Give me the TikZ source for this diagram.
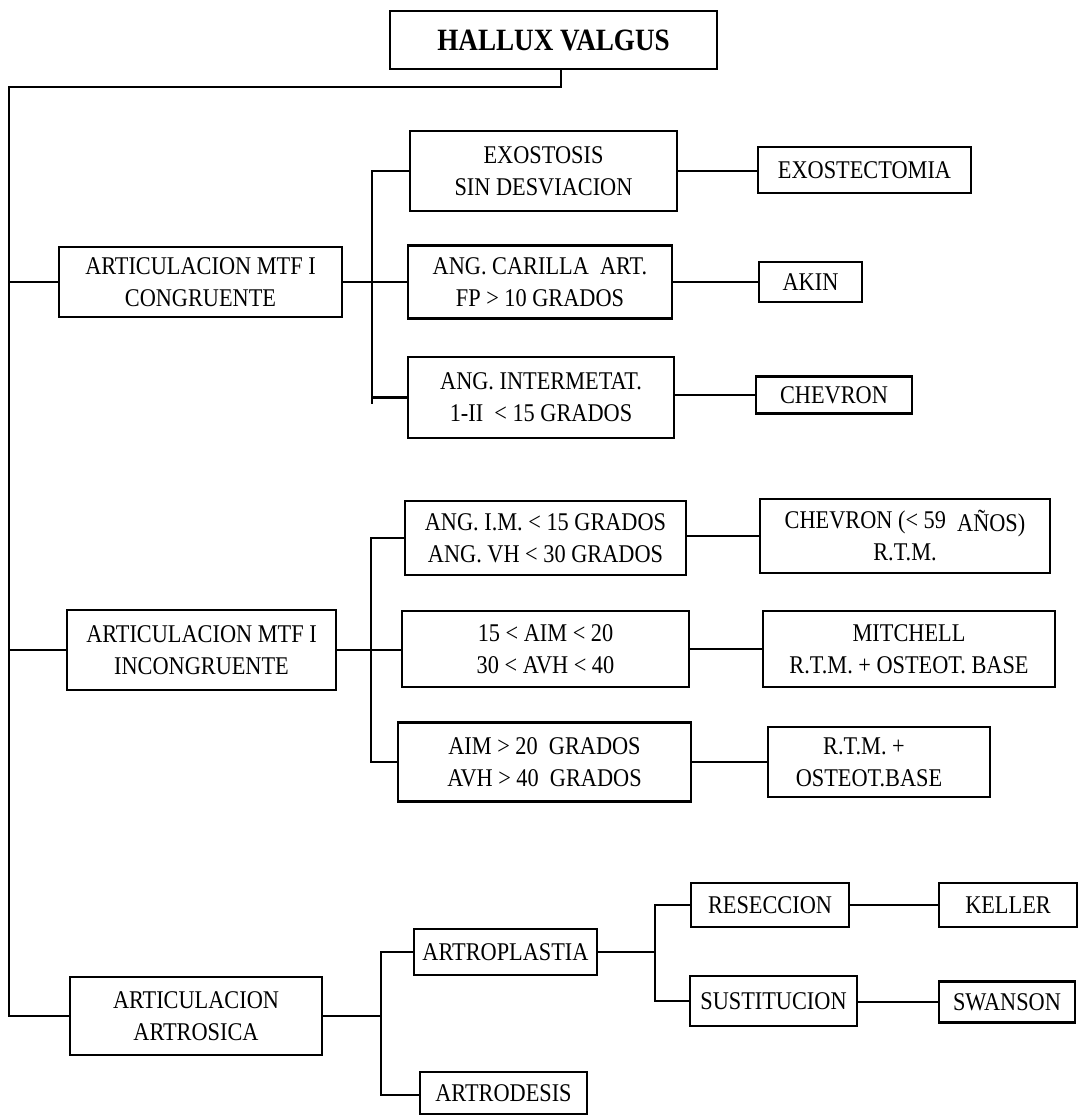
\documentclass[tikz,border=0pt]{standalone}
\usepackage{fontspec}
\setmainfont{Liberation Serif}[FakeStretch=0.875]
\usetikzlibrary{calc}
\begin{document}
\begin{tikzpicture}[x=1pt,y=-1pt,
  box/.style={draw, line width=2.2pt, inner sep=0pt, align=center, font=\fontsize{25.5}{32}\selectfont},
  title/.style={draw, line width=2.2pt, inner sep=0pt, align=center, font=\bfseries\fontsize{31}{34}\selectfont},
  ln/.style={line width=2.2pt}]
\useasboundingbox (0,0) rectangle (1087,1116);

% title
\node[title, minimum width=327pt, minimum height=58pt] (hv) at (553.5,40) {HALLUX VALGUS};

% level 1
\node[box, minimum width=283pt, minimum height=70pt] (c1) at (200.5,282) {ARTICULACION MTF I\\CONGRUENTE};
\node[box, minimum width=269pt, minimum height=80pt] (c2) at (201.5,650) {ARTICULACION MTF I\\INCONGRUENTE};
\node[box, minimum width=252pt, minimum height=78pt] (c3) at (196,1016) {ARTICULACION\\ARTROSICA};

% level 2, congruente
\node[box, minimum width=267pt, minimum height=80pt] (c1a) at (543.5,171) {EXOSTOSIS\\SIN DESVIACION};
\node[box, minimum width=264pt, minimum height=73pt] (c1b) at (540,282) {ANG. CARILLA\ \ ART.\\FP > 10 GRADOS};
\node[box, minimum width=266pt, minimum height=81pt] (c1c) at (541,397.5) {ANG. INTERMETAT.\\1-II\ \ < 15 GRADOS};

\node[box, minimum width=213pt, minimum height=46pt] (r1a) at (864.5,170) {EXOSTECTOMIA};
\node[box, minimum width=103pt, minimum height=40pt] (r1b) at (810.5,282) {AKIN};
\node[box, minimum width=156pt, minimum height=37pt] (r1c) at (834,395) {CHEVRON};

% level 2, incongruente
\node[box, minimum width=281pt, minimum height=74pt] (c2a) at (545.5,538) {ANG. I.M. < 15 GRADOS\\ANG. VH < 30 GRADOS};
\node[box, minimum width=287pt, minimum height=76pt] (c2b) at (545.5,649) {15 < AIM < 20\\30 < AVH < 40};
\node[box, minimum width=293pt, minimum height=79pt] (c2c) at (544.5,762) {AIM > 20\ \ GRADOS\\AVH > 40\ \ GRADOS};

\node[box, minimum width=290pt, minimum height=74pt] (r2a) at (905,536) {CHEVRON (< 59\ \ \raisebox{-3pt}{AÑOS)}\\R.T.M.};
\node[box, minimum width=292pt, minimum height=76pt] (r2b) at (909,649) {MITCHELL\\R.T.M. + OSTEOT. BASE};
\node[box, minimum width=222pt, minimum height=70pt] (r2c) at (879,762) {R.T.M. +\hspace*{30pt}\\OSTEOT.BASE\hspace*{20pt}};

% level 2, artrosica
\node[box, minimum width=183pt, minimum height=46pt] (c3a) at (505.5,952) {ARTROPLASTIA};
\node[box, minimum width=167pt, minimum height=42pt] (c3b) at (503.5,1093) {ARTRODESIS};
\node[box, minimum width=158pt, minimum height=44pt] (c3a1) at (770,905) {RESECCION};
\node[box, minimum width=167pt, minimum height=50pt] (c3a2) at (773.5,1001) {SUSTITUCION};
\node[box, minimum width=138pt, minimum height=44pt] (k) at (1008,905) {KELLER};
\node[box, minimum width=136pt, minimum height=41pt] (s) at (1007,1002) {SWANSON};

% trunk
\coordinate (hvx) at (561,87);
\coordinate (tk) at (9,87);
\draw[ln] (hv.south -| hvx) -- (hvx) -- (tk) -- (tk |- c3.west) -- (c3.west);
\draw[ln] (tk |- c1.west) -- (c1.west);
\draw[ln] (tk |- c2.west) -- (c2.west);

% bracket 1
\coordinate (b1) at (372,0);
\draw[ln] (c1.east) -- (c1b.west);
\draw[ln] (c1a.west) -- (c1a.west -| b1) -- ($(c1c.west -| b1)+(0,6)$);
\draw[ln] (c1c.west -| b1) -- (c1c.west);
\draw[ln] (c1a.east) -- (c1a.east -| r1a.west);
\draw[ln] (c1b.east) -- (r1b.west);
\draw[ln] (c1c.east |- r1c.west) -- (r1c.west);

% bracket 2
\coordinate (b2) at (371,0);
\draw[ln] (c2.east) -- (c2.east -| c2b.west);
\draw[ln] (c2a.west) -- (c2a.west -| b2) -- (c2c.west -| b2) -- (c2c.west);
\draw[ln] (c2a.east |- r2a.west) -- (r2a.west);
\draw[ln] (c2b.east) -- (r2b.west);
\draw[ln] (c2c.east) -- (r2c.west);

% bracket 3
\coordinate (b3) at (381,0);
\draw[ln] (c3.east) -- (c3.east -| b3);
\draw[ln] (c3a.west) -- (c3a.west -| b3) -- ($(c3b.west -| b3)+(0,2)$) -- ($(c3b.west)+(0,2)$);

% bracket 4
\coordinate (b4) at (655,0);
\draw[ln] (c3a.east) -- (c3a.east -| b4);
\draw[ln] (c3a1.west) -- (c3a1.west -| b4) -- (c3a2.west -| b4) -- (c3a2.west);
\draw[ln] (c3a1.east) -- (k.west);
\draw[ln] (c3a2.east |- s.west) -- (s.west);
\end{tikzpicture}
\end{document}
